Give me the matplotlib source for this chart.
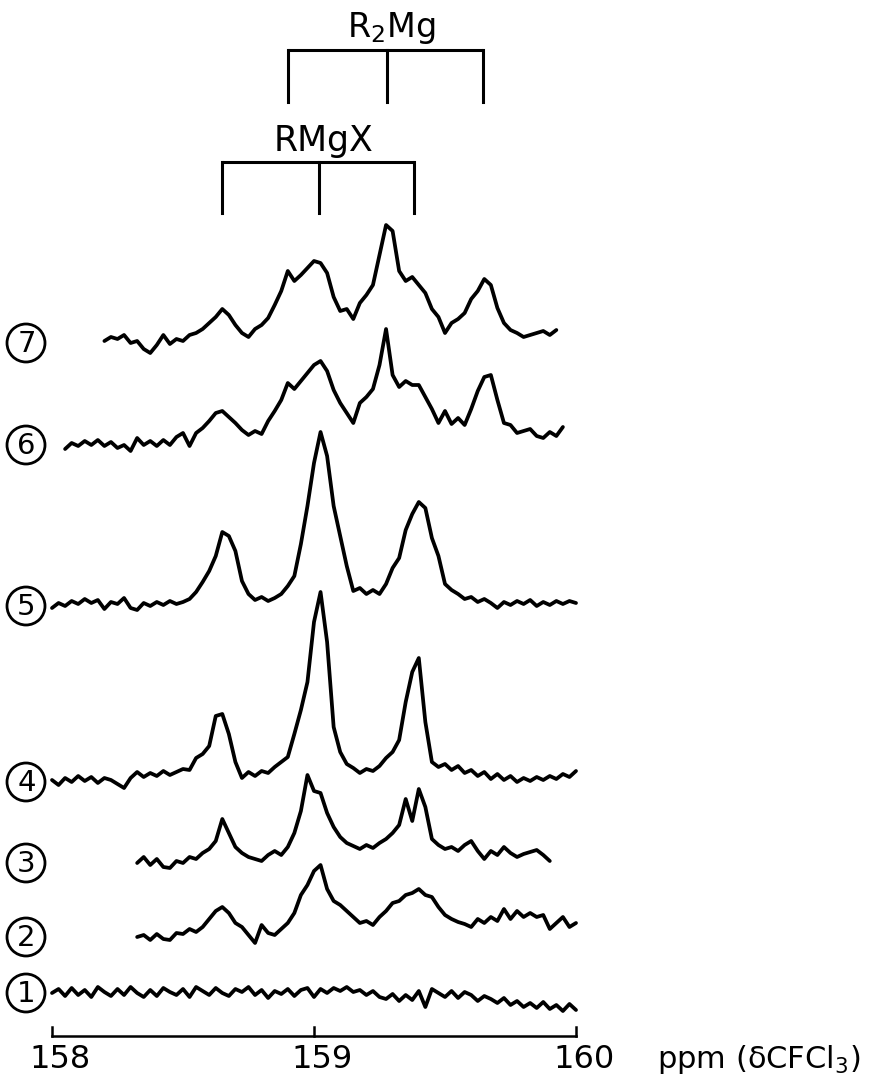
import numpy as np
import matplotlib.pyplot as plt
from matplotlib.patches import Ellipse

# 19F NMR traces, heights (px above each trace's baseline)
# sampled every 0.025 ppm from the given start shift
step = 0.025
starts = [158.0, 158.325, 158.325, 158.0, 158.0, 158.05, 158.2]

t1 = [0, 4, -3, 5, -2, 3, -4, 6, 1, -3,
      4, -2, 6, 0, -4, 3, -3, 5, 1, -2,
      4, -4, 6, 2, -2, 5, 0, -3, 4, 1,
      6, -2, 3, -5, 2, -1, 4, -3, 3, 5,
      -4, 4, 0, 5, 2, 6, 1, 3, -2, 2,
      -4, -6, -1, -8, -2, -7, 2, -14, 4, 0,
      -4, 2, -5, 1, -2, -8, -3, -6, -10, -5,
      -12, -8, -14, -10, -15, -9, -16, -12, -18, -11, -17]
t2 = [0, 2, -3, 3, -2, -3, 4, 3, 8, 5,
      10, 18, 26, 30, 24, 14, 10, 2, -6, 12,
      4, 2, 8, 14, 24, 42, 52, 66, 72, 48,
      36, 32, 26, 20, 14, 16, 12, 20, 26, 34,
      36, 42, 44, 48, 42, 40, 30, 22, 18, 15,
      13, 10, 18, 14, 20, 16, 28, 18, 26, 20,
      24, 20, 22, 8, 14, 20, 10, 14]
t3 = [0, 6, -2, 4, -4, -5, 2, 0, 6, 4,
      10, 14, 22, 44, 30, 16, 10, 6, 4, 2,
      8, 12, 8, 16, 30, 52, 88, 72, 70, 50,
      36, 26, 20, 17, 14, 18, 15, 20, 24, 30,
      38, 64, 42, 74, 56, 24, 18, 14, 16, 12,
      18, 22, 12, 4, 12, 8, 16, 10, 6, 9,
      11, 13, 8, 2]
t4 = [2, -3, 4, 0, 6, 1, 5, -1, 4, 2,
      -2, -6, 4, 10, 5, 9, 6, 11, 7, 10,
      13, 12, 24, 28, 36, 66, 68, 48, 20, 4,
      10, 6, 11, 9, 15, 20, 25, 48, 72, 100,
      160, 190, 140, 55, 30, 18, 14, 9, 13, 11,
      16, 24, 30, 42, 80, 110, 124, 60, 20, 15,
      18, 12, 16, 9, 12, 6, 10, 3, 8, 2,
      6, 0, 4, 1, 5, 2, 6, 3, 8, 5, 11]
t5 = [-2, 3, 0, 5, 2, 7, 3, 6, -3, 4,
      2, 8, -2, -4, 3, 0, 4, 1, 5, 2,
      4, 7, 14, 24, 35, 50, 74, 70, 55, 25,
      12, 6, 9, 5, 8, 12, 20, 30, 62, 100,
      143, 174, 150, 100, 70, 40, 15, 18, 12, 16,
      12, 22, 38, 48, 76, 92, 104, 98, 68, 50,
      22, 16, 12, 7, 9, 4, 7, 3, -2, 4,
      1, 5, 2, 6, 0, 4, 1, 5, 2, 5, 3]
t6 = [-4, 2, -1, 4, 0, 5, -1, 3, -3, 0,
      -6, 7, 0, 4, -1, 5, 0, 8, 12, -1,
      12, 17, 24, 32, 34, 28, 22, 15, 10, 14,
      11, 24, 34, 45, 62, 56, 64, 72, 80, 84,
      74, 55, 42, 32, 22, 42, 48, 56, 80, 116,
      70, 58, 64, 60, 60, 48, 36, 22, 34, 21,
      27, 20, 36, 54, 68, 70, 45, 22, 20, 12,
      14, 16, 9, 7, 13, 9, 18]
t7 = [2, 6, 4, 8, 0, 2, -6, -10, -2, 8,
      -1, 4, 2, 8, 10, 14, 20, 26, 34, 28,
      18, 10, 6, 14, 18, 25, 38, 52, 72, 62,
      68, 75, 82, 80, 70, 46, 32, 34, 24, 40,
      48, 58, 88, 118, 112, 72, 62, 66, 58, 50,
      34, 26, 10, 20, 24, 30, 44, 52, 64, 58,
      35, 20, 13, 10, 6, 8, 10, 12, 8, 13]
traces = [t1, t2, t3, t4, t5, t6, t7]
labels = ['1', '2', '3', '4', '5', '6', '7']

rmgx = [158.65, 159.02, 159.38]
r2mg = [158.90, 159.28, 159.645]
ticks = [158, 159, 160]

# layout (figure pixels, measured from top)
W, H = 875, 1077
x0, ppx = 52, 262.0
baselines = [993, 937, 863, 782, 606, 445, 343]


def ppm(px):
    return 158 + (px - x0) / ppx


def yy(py):
    return H - py


fig = plt.figure(figsize=(W / 100, H / 100), dpi=100)
ax = fig.add_axes([0, 0, 1, 1])
ax.set_xlim(ppm(0), ppm(W))
ax.set_ylim(0, H)
ax.axis('off')

for vals, s, b, lab in zip(traces, starts, baselines, labels):
    x = s + step * np.arange(len(vals))
    ax.plot(x, yy(b) + np.array(vals), color='black', lw=2.7,
            solid_joinstyle='round', solid_capstyle='round')
    # circled trace number
    ax.add_patch(Ellipse((ppm(26), yy(b)), 38 / ppx, 38, fill=False,
                         edgecolor='black', lw=2.0))
    ax.text(ppm(26.5), yy(b) - 1, lab, ha='center', va='center', fontsize=21)

# scale bar along the bottom
ax.plot([158, 160], [yy(1036)] * 2, color='black', lw=1.8)
for t in ticks:
    ax.plot([t, t], [yy(1036), yy(1027)], color='black', lw=1.8)
    ax.text(t + 8 / ppx, yy(1060), str(t), ha='center', va='center', fontsize=23)
ax.text(ppm(657), yy(1060), r'ppm (δCFCl$_3$)', ha='left', va='center', fontsize=22)


def bracket(shifts, top, bottom, text, text_y, size):
    ax.plot([shifts[0], shifts[-1]], [yy(top)] * 2, color='black', lw=2.2,
            solid_capstyle='butt')
    for s in shifts:
        ax.plot([s, s], [yy(top), yy(bottom)], color='black', lw=2.2)
    ax.text(shifts[1] + 4 / ppx, yy(text_y), text, ha='center', va='baseline',
            fontsize=size)


bracket(r2mg, 50, 102, r'R$_2$Mg', 37, 24)
bracket(rmgx, 162, 213, 'RMgX', 151, 25)

fig.savefig('out.png', dpi=100)
